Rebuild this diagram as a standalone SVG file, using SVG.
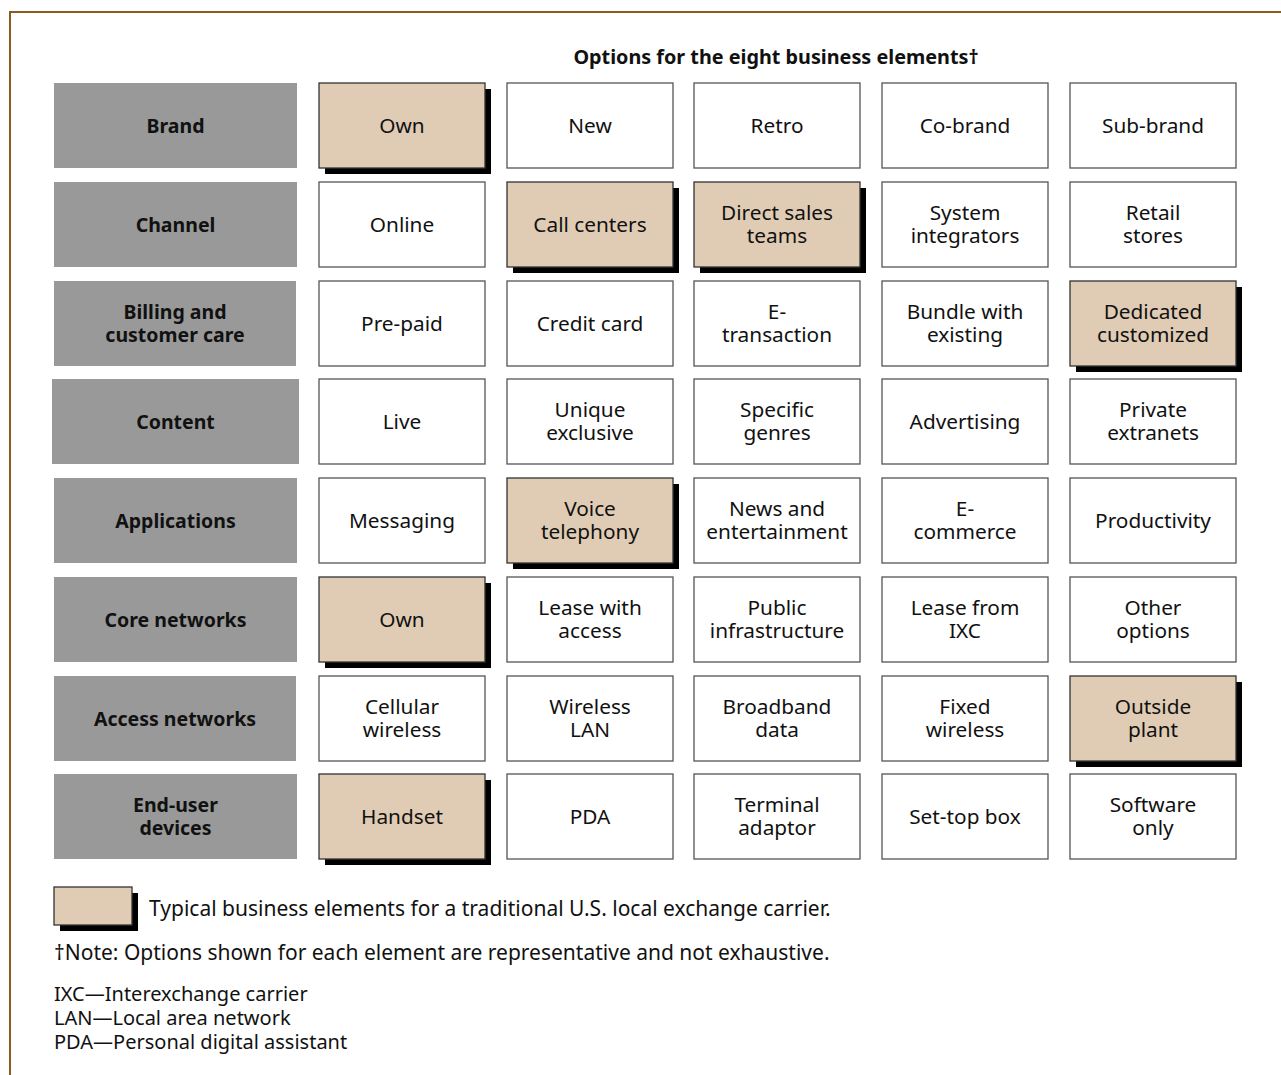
<svg xmlns="http://www.w3.org/2000/svg" width="1281" height="1075" viewBox="0 0 1281 1075">
<style>
text{font-family:"Noto Sans","Open Sans","Liberation Sans",sans-serif;fill:#111;}
.lab{font-size:19.5px;font-weight:bold;text-anchor:middle;}
.opt{font-size:20.8px;text-anchor:middle;}
.title{font-size:19.8px;font-weight:bold;text-anchor:middle;}
.note{font-size:21px;}
.abbr{font-size:20px;}
.el{fill:#999999;}
.box{fill:#ffffff;stroke:#555;stroke-width:1.3;}
.hi{fill:#e0ccb4;stroke:#333;stroke-width:1.3;}
.sh{fill:#000;}
</style>
<rect width="1281" height="1075" fill="#fff"/>
<path d="M10,1075 V12 H1281" fill="none" stroke="#8b5a1e" stroke-width="2"/>
<text class="title" x="776" y="63.5">Options for the eight business elements†</text>

<g id="row-brand">
<g id="el-brand"><rect class="el" x="54" y="83" width="243" height="85"/><text class="lab" x="175.5" y="132.5">Brand</text></g>
<g id="brand-own"><rect class="sh" x="325" y="89" width="166" height="85"/><rect class="hi" x="319" y="83" width="166" height="85"/><text class="opt" x="402" y="133">Own</text></g>
<g id="brand-new"><rect class="box" x="507" y="83" width="166" height="85"/><text class="opt" x="590" y="133">New</text></g>
<g id="brand-retro"><rect class="box" x="694" y="83" width="166" height="85"/><text class="opt" x="777" y="133">Retro</text></g>
<g id="brand-cobrand"><rect class="box" x="882" y="83" width="166" height="85"/><text class="opt" x="965" y="133">Co-brand</text></g>
<g id="brand-subbrand"><rect class="box" x="1070" y="83" width="166" height="85"/><text class="opt" x="1153" y="133">Sub-brand</text></g>
</g>

<g id="row-channel">
<g id="el-channel"><rect class="el" x="54" y="182" width="243" height="85"/><text class="lab" x="175.5" y="231.5">Channel</text></g>
<g id="channel-online"><rect class="box" x="319" y="182" width="166" height="85"/><text class="opt" x="402" y="232">Online</text></g>
<g id="channel-call"><rect class="sh" x="513" y="188" width="166" height="85"/><rect class="hi" x="507" y="182" width="166" height="85"/><text class="opt" x="590" y="232">Call centers</text></g>
<g id="channel-direct"><rect class="sh" x="700" y="188" width="166" height="85"/><rect class="hi" x="694" y="182" width="166" height="85"/><text class="opt" x="777" y="219.5">Direct sales<tspan x="777" dy="23.5">teams</tspan></text></g>
<g id="channel-si"><rect class="box" x="882" y="182" width="166" height="85"/><text class="opt" x="965" y="219.5">System<tspan x="965" dy="23.5">integrators</tspan></text></g>
<g id="channel-retail"><rect class="box" x="1070" y="182" width="166" height="85"/><text class="opt" x="1153" y="219.5">Retail<tspan x="1153" dy="23.5">stores</tspan></text></g>
</g>

<g id="row-billing">
<g id="el-billing"><rect class="el" x="54" y="281" width="242" height="85"/><text class="lab" x="175" y="318.5">Billing and<tspan x="175" dy="23.5">customer care</tspan></text></g>
<g id="billing-prepaid"><rect class="box" x="319" y="281" width="166" height="85"/><text class="opt" x="402" y="331">Pre-paid</text></g>
<g id="billing-credit"><rect class="box" x="507" y="281" width="166" height="85"/><text class="opt" x="590" y="331">Credit card</text></g>
<g id="billing-etrans"><rect class="box" x="694" y="281" width="166" height="85"/><text class="opt" x="777" y="318.5">E-<tspan x="777" dy="23.5">transaction</tspan></text></g>
<g id="billing-bundle"><rect class="box" x="882" y="281" width="166" height="85"/><text class="opt" x="965" y="318.5">Bundle with<tspan x="965" dy="23.5">existing</tspan></text></g>
<g id="billing-dedicated"><rect class="sh" x="1076" y="287" width="166" height="85"/><rect class="hi" x="1070" y="281" width="166" height="85"/><text class="opt" x="1153" y="318.5">Dedicated<tspan x="1153" dy="23.5">customized</tspan></text></g>
</g>

<g id="row-content">
<g id="el-content"><rect class="el" x="52" y="379" width="247" height="85"/><text class="lab" x="175.5" y="428.5">Content</text></g>
<g id="content-live"><rect class="box" x="319" y="379" width="166" height="85"/><text class="opt" x="402" y="429">Live</text></g>
<g id="content-unique"><rect class="box" x="507" y="379" width="166" height="85"/><text class="opt" x="590" y="416.5">Unique<tspan x="590" dy="23.5">exclusive</tspan></text></g>
<g id="content-genres"><rect class="box" x="694" y="379" width="166" height="85"/><text class="opt" x="777" y="416.5">Specific<tspan x="777" dy="23.5">genres</tspan></text></g>
<g id="content-ads"><rect class="box" x="882" y="379" width="166" height="85"/><text class="opt" x="965" y="429">Advertising</text></g>
<g id="content-extranets"><rect class="box" x="1070" y="379" width="166" height="85"/><text class="opt" x="1153" y="416.5">Private<tspan x="1153" dy="23.5">extranets</tspan></text></g>
</g>

<g id="row-applications">
<g id="el-applications"><rect class="el" x="54" y="478" width="243" height="85"/><text class="lab" x="175.5" y="527.5">Applications</text></g>
<g id="app-messaging"><rect class="box" x="319" y="478" width="166" height="85"/><text class="opt" x="402" y="528">Messaging</text></g>
<g id="app-voice"><rect class="sh" x="513" y="484" width="166" height="85"/><rect class="hi" x="507" y="478" width="166" height="85"/><text class="opt" x="590" y="515.5">Voice<tspan x="590" dy="23.5">telephony</tspan></text></g>
<g id="app-news"><rect class="box" x="694" y="478" width="166" height="85"/><text class="opt" x="777" y="515.5">News and<tspan x="777" dy="23.5">entertainment</tspan></text></g>
<g id="app-ecommerce"><rect class="box" x="882" y="478" width="166" height="85"/><text class="opt" x="965" y="515.5">E-<tspan x="965" dy="23.5">commerce</tspan></text></g>
<g id="app-productivity"><rect class="box" x="1070" y="478" width="166" height="85"/><text class="opt" x="1153" y="528">Productivity</text></g>
</g>

<g id="row-core">
<g id="el-core"><rect class="el" x="54" y="577" width="243" height="85"/><text class="lab" x="175.5" y="626.5">Core networks</text></g>
<g id="core-own"><rect class="sh" x="325" y="583" width="166" height="85"/><rect class="hi" x="319" y="577" width="166" height="85"/><text class="opt" x="402" y="627">Own</text></g>
<g id="core-lease"><rect class="box" x="507" y="577" width="166" height="85"/><text class="opt" x="590" y="614.5">Lease with<tspan x="590" dy="23.5">access</tspan></text></g>
<g id="core-public"><rect class="box" x="694" y="577" width="166" height="85"/><text class="opt" x="777" y="614.5">Public<tspan x="777" dy="23.5">infrastructure</tspan></text></g>
<g id="core-ixc"><rect class="box" x="882" y="577" width="166" height="85"/><text class="opt" x="965" y="614.5">Lease from<tspan x="965" dy="23.5">IXC</tspan></text></g>
<g id="core-other"><rect class="box" x="1070" y="577" width="166" height="85"/><text class="opt" x="1153" y="614.5">Other<tspan x="1153" dy="23.5">options</tspan></text></g>
</g>

<g id="row-access">
<g id="el-access"><rect class="el" x="54" y="676" width="242" height="85"/><text class="lab" x="175" y="725.5">Access networks</text></g>
<g id="access-cellular"><rect class="box" x="319" y="676" width="166" height="85"/><text class="opt" x="402" y="713.5">Cellular<tspan x="402" dy="23.5">wireless</tspan></text></g>
<g id="access-wlan"><rect class="box" x="507" y="676" width="166" height="85"/><text class="opt" x="590" y="713.5">Wireless<tspan x="590" dy="23.5">LAN</tspan></text></g>
<g id="access-broadband"><rect class="box" x="694" y="676" width="166" height="85"/><text class="opt" x="777" y="713.5">Broadband<tspan x="777" dy="23.5">data</tspan></text></g>
<g id="access-fixed"><rect class="box" x="882" y="676" width="166" height="85"/><text class="opt" x="965" y="713.5">Fixed<tspan x="965" dy="23.5">wireless</tspan></text></g>
<g id="access-outside"><rect class="sh" x="1076" y="682" width="166" height="85"/><rect class="hi" x="1070" y="676" width="166" height="85"/><text class="opt" x="1153" y="713.5">Outside<tspan x="1153" dy="23.5">plant</tspan></text></g>
</g>

<g id="row-devices">
<g id="el-devices"><rect class="el" x="54" y="774" width="243" height="85"/><text class="lab" x="175.5" y="811.5">End-user<tspan x="175.5" dy="23.5">devices</tspan></text></g>
<g id="dev-handset"><rect class="sh" x="325" y="780" width="166" height="85"/><rect class="hi" x="319" y="774" width="166" height="85"/><text class="opt" x="402" y="824">Handset</text></g>
<g id="dev-pda"><rect class="box" x="507" y="774" width="166" height="85"/><text class="opt" x="590" y="824">PDA</text></g>
<g id="dev-terminal"><rect class="box" x="694" y="774" width="166" height="85"/><text class="opt" x="777" y="811.5">Terminal<tspan x="777" dy="23.5">adaptor</tspan></text></g>
<g id="dev-settop"><rect class="box" x="882" y="774" width="166" height="85"/><text class="opt" x="965" y="824">Set-top box</text></g>
<g id="dev-software"><rect class="box" x="1070" y="774" width="166" height="85"/><text class="opt" x="1153" y="811.5">Software<tspan x="1153" dy="23.5">only</tspan></text></g>
</g>

<g id="connectors"></g>

<g id="legend">
<rect class="sh" x="60" y="893" width="78" height="38"/>
<rect class="hi" x="54" y="887" width="78" height="38"/>
<text class="note" x="149" y="916">Typical business elements for a traditional U.S. local exchange carrier.</text>
<text class="note" x="54" y="960">†Note: Options shown for each element are representative and not exhaustive.</text>
<text class="abbr" x="54" y="1001">IXC—Interexchange carrier<tspan x="54" dy="24">LAN—Local area network</tspan><tspan x="54" dy="24">PDA—Personal digital assistant</tspan></text>
</g>
</svg>
